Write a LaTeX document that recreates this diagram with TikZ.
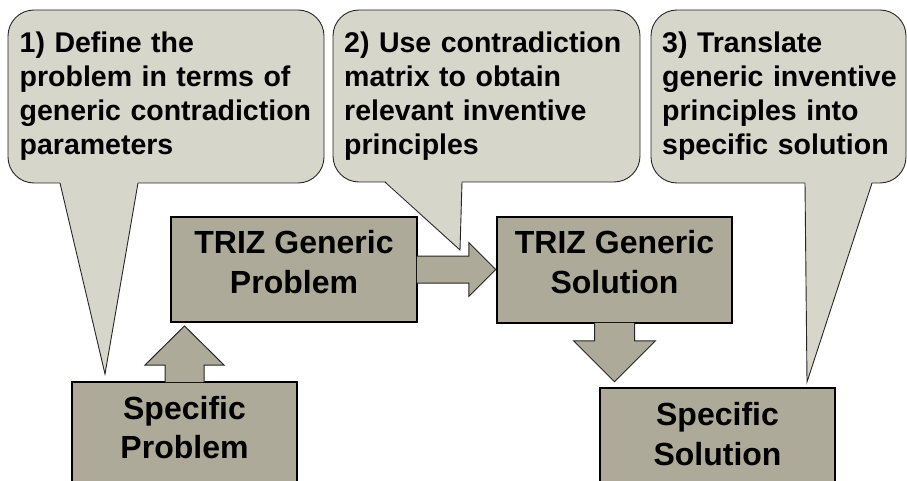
\documentclass[tikz,border=0pt]{standalone}
\usepackage{fontspec}
\setmainfont{Liberation Sans}
\usepackage{tikz}
\usetikzlibrary{positioning}
\definecolor{bubblefill}{HTML}{D6D6CB}
\definecolor{boxfill}{HTML}{AEAA9A}

\begin{document}
\begin{tikzpicture}[x=1pt,y=-1pt,
            bubble/.style={fill=bubblefill,draw=black!85,line width=0.9pt,rounded corners=26pt},
            bubble tail/.style={draw=black!85,line width=0.9pt,line join=miter},
            bubble text/.style={anchor=north west,inner sep=0pt,text width=310pt,align=left,
                font=\bfseries\fontsize{28.5}{34}\selectfont},
            main box/.style={rectangle,fill=boxfill,draw=black,line width=1.5pt},
            box text/.style={inner sep=0pt,align=center,font=\bfseries\fontsize{32}{39.5}\selectfont},
            block arrow/.style={fill=boxfill,draw=black!85,line width=1pt,line join=miter},
            ]
            \path[use as bounding box] (0,0) rectangle (907,481);
            \clip (0,0) rectangle (907,481);

            % callouts
            \filldraw[bubble] (8,10) rectangle (324,183);
            \fill[bubblefill] (60,181.5) -- (105,374) -- (138,181.5) -- cycle;
            \draw[bubble tail] (60,183) -- (105,374) -- (138,183);
            \filldraw[bubble] (333,10) rectangle (640,182);
            \fill[bubblefill] (385,180.5) -- (460,250) -- (462,180.5) -- cycle;
            \draw[bubble tail] (385,182) -- (460,250) -- (462,182);
            \filldraw[bubble] (651,10) rectangle (906,183);
            \fill[bubblefill] (805,181.5) -- (807,382) -- (872,181.5) -- cycle;
            \draw[bubble tail] (805,183) -- (807,382) -- (872,183);

            \node[bubble text] (n1) at (19.5,31.5) {1) Define the\\problem in terms of\\generic contradiction\\parameters};
            \node[bubble text] (n2) at (344,31.5) {2) Use contradiction\\matrix to obtain\\relevant inventive\\principles};
            \node[bubble text] (n3) at (662,31.5) {3) Translate\\generic inventive\\principles into\\specific solution};

            % boxes
            \node[main box, minimum width=246pt, minimum height=105pt] (gp) at (294,269.5) {};
            \node[main box, minimum width=235pt, minimum height=106pt] (gs) at (614.5,270) {};
            \node[main box, minimum width=225pt, minimum height=130pt, anchor=north] (sp) at (184.5,381) {};
            \node[main box, minimum width=235pt, minimum height=130pt, anchor=north] (ss) at (717.5,387) {};
            \node[box text, below=14pt of gp.north] (gptext) {TRIZ Generic\\Problem};
            \node[box text, below=14pt of gs.north] (gstext) {TRIZ Generic\\Solution};
            \node[box text, below=15pt of sp.north] (sptext) {Specific\\Problem};
            \node[box text, below=15.5pt of ss.north] (sstext) {Specific\\Solution};

            % block arrows
            \filldraw[block arrow] ([xshift=-19.5pt,yshift=-1pt]sp.north) -- ++(0,-17) -- ++(-20,0) -- ++(39.5,-39)
                -- ++(39.5,39) -- ++(-20,0) -- ++(0,17);
            \filldraw[block arrow] ([xshift=-1pt,yshift=13.5pt]gp.east) -- ++(52,0) -- ++(0,-13.5) -- ++(27,27)
                -- ++(-27,27) -- ++(0,-13.5) -- ++(-52,0);
            \filldraw[block arrow] ([xshift=-20pt,yshift=1pt]gs.south) -- ++(0,18) -- ++(-21,0) -- ++(41,41)
                -- ++(41,-41) -- ++(-21,0) -- ++(0,-18);
        \end{tikzpicture}
\end{document}
